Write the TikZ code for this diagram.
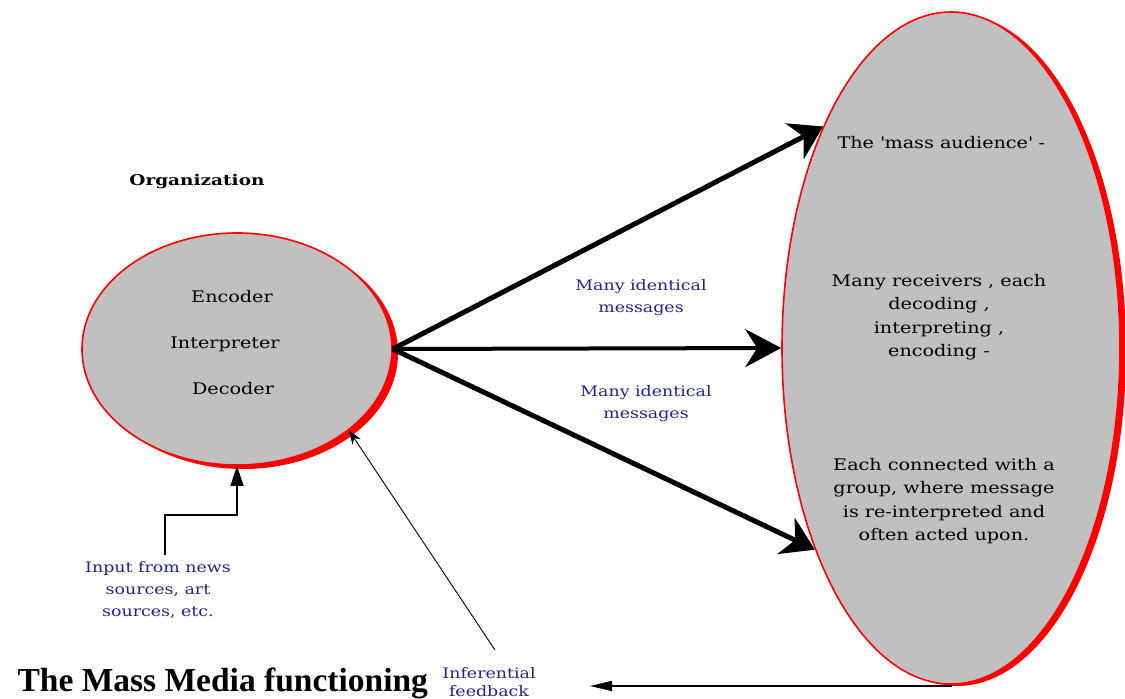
\documentclass[tikz,border=0pt]{standalone}
\usepackage{fontspec}
\setmainfont{DejaVu Serif}[FakeStretch=1.2]
\newfontfamily\orgfont{DejaVu Serif}[FakeStretch=1.25]
\newfontfamily\titlefont{Liberation Serif}
\usetikzlibrary{arrows.meta,shapes.geometric}
\definecolor{fillgray}{RGB}{192,192,192}
\definecolor{navytext}{RGB}{35,35,140}
\tikzset{
  bubble/.style={ellipse, draw=red, line width=1.6pt, fill=fillgray, inner sep=0pt},
  bubbleshadow/.style={ellipse, fill=red, draw=none, inner sep=0pt},
  bodytext/.style={font=\fontsize{16}{23.4}\selectfont, align=center, text=black},
  bluetext/.style={font=\fontsize{14.5}{22}\selectfont, align=center, text=navytext},
  bigarrow/.style={line width=5pt, -{Stealth[length=32pt, width=40pt, inset=10pt]}},
  midarrow/.style={line width=4pt, -{Stealth[length=36pt, width=38pt, inset=12pt]}},
}
\begin{document}
\begin{tikzpicture}[x=1pt, y=-1pt]
\useasboundingbox (0,0) rectangle (1125,699);
% shadows
\node[bubbleshadow, minimum width=310pt, minimum height=232pt] at (243,353) {};
\node[bubbleshadow, minimum width=338pt, minimum height=672pt] at (957,350) {};
% ellipses
\node[bubble, minimum width=310pt, minimum height=232pt] (org) at (237,349) {};
\node[bubble, minimum width=338pt, minimum height=672pt] (aud) at (951,348) {};
% left texts
\node[bodytext] (enc) at (232,297) {Encoder};
\node[bodytext] (intp) at (225,344) {Interpreter};
\node[bodytext] (dec) at (233,389) {Decoder};
\node[font=\fontsize{14.8}{16}\selectfont\orgfont\bfseries] (orgl) at (197,182) {Organization};
% right texts
\node[bodytext, anchor=west] (mass) at (834,143) {The \textquotesingle mass audience\textquotesingle\ -};
\node[bodytext] (many) at (939,317) {Many receivers , each\\decoding ,\\interpreting ,\\encoding -};
\node[bodytext] (each) at (944,501) {Each connected with a\\group, where message\\is re-interpreted and\\often acted upon.};
% blue labels
\node[bluetext] (lab1) at (641,298) {Many identical\\messages};
\node[bluetext] (lab2) at (646,404) {Many identical\\messages};
\node[bluetext] (inp) at (158,590) {Input from news\\sources, art\\sources, etc.};
\node[font=\fontsize{14.5}{18}\selectfont, align=center, text=navytext, anchor=south, inner sep=1pt] (inf) at (489,698) {Inferential\\feedback};
% title
\node[font=\fontsize{33.5}{34}\selectfont\titlefont\bfseries, anchor=base west] (title) at (14,691) {The Mass Media functioning};
% arrows
\draw[bigarrow] (org.east) -- (aud.120.6);
\draw[midarrow] (org.east) -- (aud.west);
\draw[bigarrow] (org.east) -- (aud.236.7);
% input arrow
\coordinate (bend) at (200,515);
\coordinate (inptop) at (165,555);
\draw[line width=1.4pt, -{Triangle[length=20pt, width=13pt]}] (inptop) -- (inptop |- bend) -| (org.south);
% feedback
\coordinate (fbstart) at (495,650);
\draw[line width=0.9pt, -{Stealth[length=14pt, width=10pt]}] (fbstart) -- (org.324);
\coordinate (fbend) at (590,686);
\draw[line width=1.3pt, -{Triangle[length=22pt, width=10pt]}] (aud.south) -- (aud.south |- fbend) -- (fbend);
\end{tikzpicture}
\end{document}
